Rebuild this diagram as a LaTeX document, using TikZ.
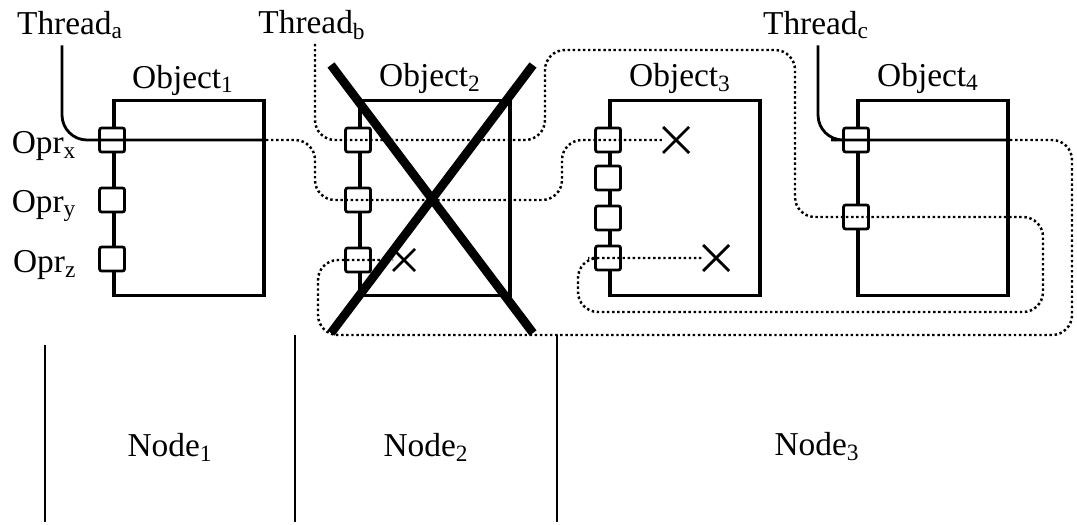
\documentclass[tikz,border=0pt]{standalone}
\usepackage{fontspec}
\setmainfont{Liberation Serif}
\usetikzlibrary{positioning,shapes.misc,calc}

\tikzset{
  obj/.style={draw, line width=2.2pt, minimum width=30mm, minimum height=39mm, inner sep=0pt},
  opr/.style={draw, fill=white, rounded corners=1.2pt, line width=1.6pt,
    minimum width=5mm, minimum height=4.8mm, inner sep=0pt},
  lbl/.style={inner sep=0pt, font=\fontsize{19}{22}\selectfont},
  thr/.style={line width=1.6pt, rounded corners=5mm},
  ghost/.style={line width=1.4pt, dash pattern=on 1.4pt off 1.5pt, rounded corners=4mm},
  kill/.style={cross out, draw, line width=1.6pt, minimum size=5.2mm, inner sep=0pt, outer sep=0pt},
  dead/.style={cross out, draw, line width=5pt, minimum width=40.4mm, minimum height=53.6mm,
    inner sep=0pt, outer sep=0pt},
  part/.style={line width=1.1pt},
}

\begin{document}
\begin{tikzpicture}[x=0.2mm, y=-0.2mm]
    \useasboundingbox (0,0) rectangle (1077,525);

    % Objekte
    \node[obj] (o1) at (189,198) {};
    \node[obj] (o2) at (435,198) {};
    \node[obj] (o3) at (685,198) {};
    \node[obj] (o4) at (933,198) {};

    \node[lbl] (o1t) at (183,80) {Object\textsubscript{1}};
    \node[lbl] (o2t) at (430,78) {Object\textsubscript{2}};
    \node[lbl] (o3t) at (680,78) {Object\textsubscript{3}};
    \node[lbl] (o4t) at (928,78) {Object\textsubscript{4}};

    % Operationen
    \node[opr] (o1a) at (o1.west |- 0,140) {};
    \node[opr] (o1b) at (o1.west |- 0,200) {};
    \node[opr] (o1c) at (o1.west |- 0,259) {};
    \node[lbl, left=4.3mm of o1a, yshift=-1.2mm] (px) {Opr\textsubscript{x}};
    \node[lbl, left=4.3mm of o1b, yshift=-1.2mm] (py) {Opr\textsubscript{y}};
    \node[lbl, left=4.3mm of o1c, yshift=-1.2mm] (pz) {Opr\textsubscript{z}};

    \node[opr] (o2a) at (o2.west |- 0,140) {};
    \node[opr] (o2b) at (o2.west |- 0,200) {};
    \node[opr] (o2c) at (o2.west |- 0,260) {};

    \node[opr] (o3a) at (o3.west |- 0,140) {};
    \node[opr] (o3b) at (o3.west |- 0,178) {};
    \node[opr] (o3c) at (o3.west |- 0,218) {};
    \node[opr] (o3d) at (o3.west |- 0,258) {};

    \node[opr] (o4a) at (o4.west |- 0,140) {};
    \node[opr] (o4b) at (o4.west |- 0,217) {};

    % Endpunkte
    \node[kill, minimum size=4.4mm] (xc) at (404,260) {};
    \node[kill] (xa) at (676,140) {};
    \node[kill] (xb) at (716,258) {};

    % Threads
    \node[lbl] (ta) at (70,25) {Thread\textsubscript{a}};
    \node[lbl] (tb) at (312,25) {Thread\textsubscript{b}};
    \node[lbl] (tc) at (816,25) {Thread\textsubscript{c}};

    \draw[thr] ($(ta.south)+(-8,6)$) |- (o1a.center) -- (o1a -| o1.east);
    \draw[ghost] (o1a -| o1.east) -- (315,140) -- (315,200) -- (o2b.center)
        -- (562,200) -- (562,140) -- (xa.west);

    \draw[ghost] ($(tb.south)+(3,4)$) |- (o2a.center) -- (545,140) -- (545,50)
        -- (795,50) -- (795,217) -- (o4b.center) -- (1043,217) -- (1043,312)
        -- (578,312) -- (578,258) -- (o3d.center) -- (xb.west);

    \draw[thr] ($(tc.south)+(2,6)$) |- (o4a.center) -- (o4a -| o4.east);
    \draw[ghost] (o4a -| o4.east) -- (1072,140) -- (1072,335) -- (318,335)
        -- (318,260) -- (o2c.center) -- (xc.west);

    % Object 2 faellt aus
    \node[dead] (gone) at (432,199) {};

    % Knoten
    \draw[part] (45,345) -- (45,522);
    \draw[part] (295,335) -- (295,522);
    \draw[part] (557,335) -- (557,522);
    \node[lbl] (n1) at (170,447) {Node\textsubscript{1}};
    \node[lbl] (n2) at (426,447) {Node\textsubscript{2}};
    \node[lbl] (n3) at (817,447) {Node\textsubscript{3}};

\end{tikzpicture}
\end{document}
